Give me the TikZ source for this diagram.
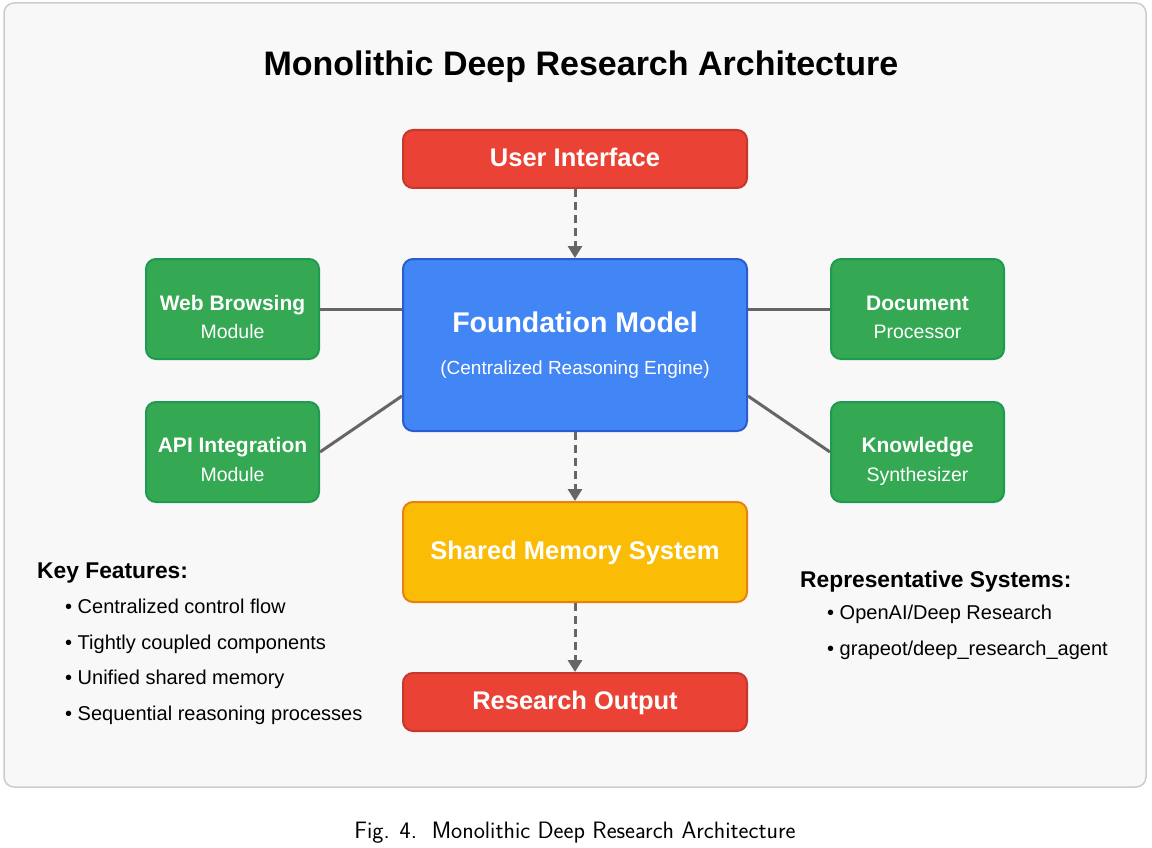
\documentclass[tikz,border=0pt]{standalone}
\usepackage{fontspec}
\setmainfont{Liberation Sans}
\usetikzlibrary{arrows.meta,calc}
\definecolor{panelbg}{HTML}{F8F8F8}
\definecolor{panelbd}{HTML}{CCCCCC}
\definecolor{gred}{HTML}{EA4335}
\definecolor{gredd}{HTML}{C5392C}
\definecolor{gblue}{HTML}{4285F4}
\definecolor{gblued}{HTML}{2A5BD0}
\definecolor{ggreen}{HTML}{34A853}
\definecolor{ggreend}{HTML}{1E9B50}
\definecolor{gyellow}{HTML}{FBBC05}
\definecolor{gyellowd}{HTML}{EA8010}
\definecolor{lgray}{HTML}{666666}
\tikzset{
  box/.style={draw, line width=2pt, rounded corners=10pt, inner sep=0pt, minimum width=#1},
  bigbox/.style={box=344pt},
  modbox/.style={box=173pt, minimum height=100pt, fill=ggreen, draw=ggreend},
  redbox/.style={bigbox, minimum height=58pt, fill=gred, draw=gredd},
  txt/.style={anchor=base, inner sep=0pt, text=white},
  conn/.style={draw=lgray, line width=3pt},
  flow/.style={draw=lgray, line width=3pt, dash pattern=on 8pt off 5pt, -{Triangle[width=14pt,length=12pt]}},
  hd/.style={anchor=base west, inner sep=0pt, font=\bfseries\fontsize{22.8}{26}\selectfont},
  item/.style={anchor=base west, inner sep=0pt, font=\fontsize{20}{23}\selectfont}
}
\begin{document}
\begin{tikzpicture}[x=1pt,y=-1pt]
\useasboundingbox (0,0) rectangle (1152,848);
\draw[fill=panelbg, draw=panelbd, line width=1.5pt, rounded corners=10pt] (4,3) rectangle (1146,787);
\node[anchor=base, inner sep=0pt, font=\bfseries\fontsize{34}{40}\selectfont] (title) at (581,76) {Monolithic Deep Research Architecture};

\node[redbox] (ui) at (575,159) {};
\node[bigbox, minimum height=172pt, fill=gblue, draw=gblued] (fm) at (575,345) {};
\node[bigbox, minimum height=100pt, fill=gyellow, draw=gyellowd] (sms) at (575,552) {};
\node[redbox] (ro) at (575,702) {};
\node[modbox] (web) at (232.5,309) {};
\node[modbox] (api) at (232.5,452) {};
\node[modbox] (doc) at (917.5,309) {};
\node[modbox] (kn) at (917.5,452) {};

\node[txt, font=\bfseries\fontsize{25.5}{30}\selectfont] (uit) at (575,167) {User Interface};
\node[txt, font=\bfseries\fontsize{28.5}{32}\selectfont] (fmt) at (575,332) {Foundation Model};
\node[txt, font=\fontsize{19}{22}\selectfont] (fms) at (575,374) {(Centralized Reasoning Engine)};
\node[txt, font=\bfseries\fontsize{25.5}{30}\selectfont] (smst) at (575,559) {Shared Memory System};
\node[txt, font=\bfseries\fontsize{25.5}{30}\selectfont] (rot) at (575,709) {Research Output};

\node[txt, font=\bfseries\fontsize{21}{24}\selectfont] (webt) at (232.5,310) {Web Browsing};
\node[txt, font=\fontsize{19.5}{23}\selectfont] (webs) at (232.5,338) {Module};
\node[txt, font=\bfseries\fontsize{21}{24}\selectfont] (apit) at (232.5,452) {API Integration};
\node[txt, font=\fontsize{19.5}{23}\selectfont] (apis) at (232.5,481) {Module};
\node[txt, font=\bfseries\fontsize{21}{24}\selectfont] (doct) at (917.5,310) {Document};
\node[txt, font=\fontsize{19.5}{23}\selectfont] (docs) at (917.5,338) {Processor};
\node[txt, font=\bfseries\fontsize{21}{24}\selectfont] (knt) at (917.5,452) {Knowledge};
\node[txt, font=\fontsize{19.5}{23}\selectfont] (kns) at (917.5,481) {Synthesizer};

\coordinate (fmlow) at ($(fm.south west)+(0,-36)$);
\coordinate (fmlowr) at ($(fm.south east)+(0,-36)$);
\draw[conn] (web.east) -- (web.east -| fm.west);
\draw[conn] (doc.west) -- (doc.west -| fm.east);
\draw[conn] (api.east) -- (fmlow);
\draw[conn] (kn.west) -- (fmlowr);

\draw[flow] (ui.south) -- (fm.north);
\draw[flow] (fm.south) -- (sms.north);
\draw[flow] (sms.south) -- (ro.north);

\node[hd] (kf) at (37,578) {Key Features:};
\node[item] (kf1) at (65,613) {• Centralized control flow};
\node[item] (kf2) at (65,649) {• Tightly coupled components};
\node[item] (kf3) at (65,684) {• Unified shared memory};
\node[item] (kf4) at (65,720) {• Sequential reasoning processes};

\node[hd] (rs) at (800,587) {Representative Systems:};
\node[item] (rs1) at (827,619) {• OpenAI/Deep Research};
\node[item] (rs2) at (827,655) {• grapeot/deep\_research\_agent};

\node[anchor=base, inner sep=0pt, font=\sffamily\fontsize{23.7}{28}\selectfont] (cap) at (575,838) {Fig. 4.\ \ Monolithic Deep Research Architecture};
\end{tikzpicture}
\end{document}
